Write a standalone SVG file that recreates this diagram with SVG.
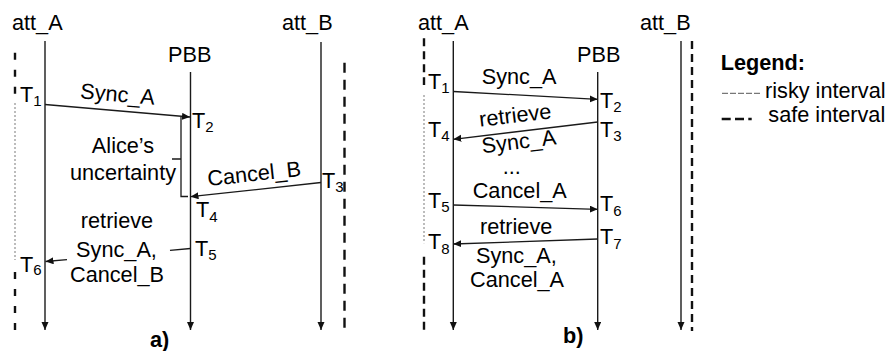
<svg xmlns="http://www.w3.org/2000/svg" width="890" height="351" viewBox="0 0 890 351">
<style>
text{font-family:"Liberation Sans",Arial,sans-serif;font-size:21.7px;fill:#000}
.b{font-weight:bold}
.m{text-anchor:middle}
.s{font-size:15px}
.life{stroke:#1a1a1a;stroke-width:1.4;fill:none}
.msg{stroke:#1a1a1a;stroke-width:1.3;fill:none}
.safeA{stroke:#111;stroke-width:2.4;stroke-dasharray:7,10;fill:none}
.safeAR{stroke:#111;stroke-width:2.4;stroke-dasharray:10,7;fill:none}
.safeB{stroke:#111;stroke-width:2.4;stroke-dasharray:8,5;fill:none}
.risky{stroke:#999;stroke-width:1.3;stroke-dasharray:2,2;fill:none}
</style>
<defs>
<marker id="ah" markerUnits="userSpaceOnUse" markerWidth="9" markerHeight="8" refX="8" refY="3.5" orient="auto">
<path d="M0,0 L8,3.5 L0,7 z" fill="#111"/>
</marker>
</defs>

<!-- Panel a -->
<g id="a_attA">
<text x="12" y="30">att_A</text>
<line class="life" x1="45" y1="41" x2="45" y2="330" marker-end="url(#ah)"/>
</g>
<g id="a_PBB">
<text x="168" y="62">PBB</text>
<line class="life" x1="190.5" y1="72" x2="190.5" y2="330" marker-end="url(#ah)"/>
</g>
<g id="a_attB">
<text x="282" y="30">att_B</text>
<line class="life" x1="321" y1="42" x2="321" y2="330" marker-end="url(#ah)"/>
</g>
<g id="a_intervals">
<line class="safeA" x1="15" y1="52.7" x2="15" y2="96"/>
<line class="risky" x1="15" y1="103" x2="15" y2="260"/>
<line class="safeA" x1="15" y1="272" x2="15" y2="330"/>
<line class="safeAR" x1="344.5" y1="62.7" x2="344.5" y2="330"/>
</g>
<g id="a_labels">
<text x="20" y="102">T<tspan class="s" dy="4">1</tspan></text>
<text x="192" y="128">T<tspan class="s" dy="3.5">2</tspan></text>
<text x="322" y="188">T<tspan class="s" dy="4">3</tspan></text>
<text x="196" y="217">T<tspan class="s" dy="4.5">4</tspan></text>
<text x="195" y="255.7">T<tspan class="s" dy="4.5">5</tspan></text>
<text x="20" y="272">T<tspan class="s" dy="3">6</tspan></text>
<text class="m" x="123" y="153">Alice’s</text>
<text class="m" x="123" y="180">uncertainty</text>
<text class="m" x="117" y="228">retrieve</text>
<text class="m" x="116.5" y="256.7">Sync_A,</text>
<text class="m" x="117" y="281.7">Cancel_B</text>
<text class="b" x="150" y="346.7">a)</text>
</g>

<!-- Panel b -->
<g id="b_attA">
<text x="418" y="30">att_A</text>
<line class="life" x1="453.3" y1="41" x2="453.3" y2="330" marker-end="url(#ah)"/>
</g>
<g id="b_PBB">
<text x="577" y="62">PBB</text>
<line class="life" x1="597.7" y1="72" x2="597.7" y2="330" marker-end="url(#ah)"/>
</g>
<g id="b_attB">
<text x="640" y="30">att_B</text>
<line class="life" x1="681" y1="41" x2="681" y2="330" marker-end="url(#ah)"/>
</g>
<g id="b_intervals">
<line class="safeB" x1="424" y1="38.3" x2="424" y2="85"/>
<line class="risky" x1="424" y1="95" x2="424" y2="243.3"/>
<line class="safeB" x1="424" y1="256.7" x2="424" y2="331.7"/>
<line class="safeB" x1="692" y1="41" x2="692" y2="331"/>
</g>
<g id="b_labels">
<text x="428" y="89.3">T<tspan class="s" dy="4">1</tspan></text>
<text x="600" y="108.3">T<tspan class="s" dy="4">2</tspan></text>
<text x="600" y="136.7">T<tspan class="s" dy="4">3</tspan></text>
<text x="428" y="136.7">T<tspan class="s" dy="4">4</tspan></text>
<text x="428" y="208.3">T<tspan class="s" dy="4">5</tspan></text>
<text x="600" y="211">T<tspan class="s" dy="4.5">6</tspan></text>
<text x="600" y="244">T<tspan class="s" dy="5">7</tspan></text>
<text x="428" y="249.3">T<tspan class="s" dy="5">8</tspan></text>
<text x="481.7" y="84">Sync_A</text>
<text class="m" x="511.7" y="174">...</text>
<text x="472.7" y="198.3">Cancel_A</text>
<text x="480" y="234.3">retrieve</text>
<text x="476" y="262.7">Sync_A,</text>
<text x="470" y="286.7">Cancel_A</text>
<text class="b" x="563" y="343">b)</text>
</g>

<!-- Connectors -->
<g id="connectors">
<line class="msg" x1="45" y1="104.5" x2="190" y2="117" marker-end="url(#ah)"/>
<text class="m" transform="translate(117 101.5) rotate(5)">Sync_A</text>
<path class="msg" d="M181,117 V196.5 H188 M172,159 H181"/>
<line class="msg" x1="321" y1="182.5" x2="190.5" y2="196.7" marker-end="url(#ah)"/>
<text class="m" transform="translate(255 181) rotate(-6.2)">Cancel_B</text>
<line class="msg" x1="190.5" y1="248.5" x2="170" y2="250.3"/>
<line class="msg" x1="67" y1="259.6" x2="45.5" y2="261.5" marker-end="url(#ah)"/>

<line class="msg" x1="453.3" y1="91.5" x2="597.7" y2="99.3" marker-end="url(#ah)"/>
<line class="msg" x1="597.7" y1="122" x2="453.3" y2="139.3" marker-end="url(#ah)"/>
<text class="m" transform="translate(516 122.5) rotate(-6.8)">retrieve</text>
<text class="m" transform="translate(519.7 148.7) rotate(-6.8)">Sync_A</text>
<line class="msg" x1="453.3" y1="205" x2="597.7" y2="209.3" marker-end="url(#ah)"/>
<line class="msg" x1="597.7" y1="239" x2="453.3" y2="244" marker-end="url(#ah)"/>
</g>

<!-- Legend -->
<g id="legend">
<text class="b" x="720.7" y="70">Legend:</text>
<line x1="722" y1="93.3" x2="760" y2="93.3" stroke="#555" stroke-width="1" stroke-dasharray="6,2"/>
<text x="765" y="98.3">risky interval</text>
<line x1="721.7" y1="119" x2="751.7" y2="119" stroke="#111" stroke-width="2.7" stroke-dasharray="9,4.3"/>
<text x="768.3" y="121.7">safe interval</text>
</g>
</svg>
